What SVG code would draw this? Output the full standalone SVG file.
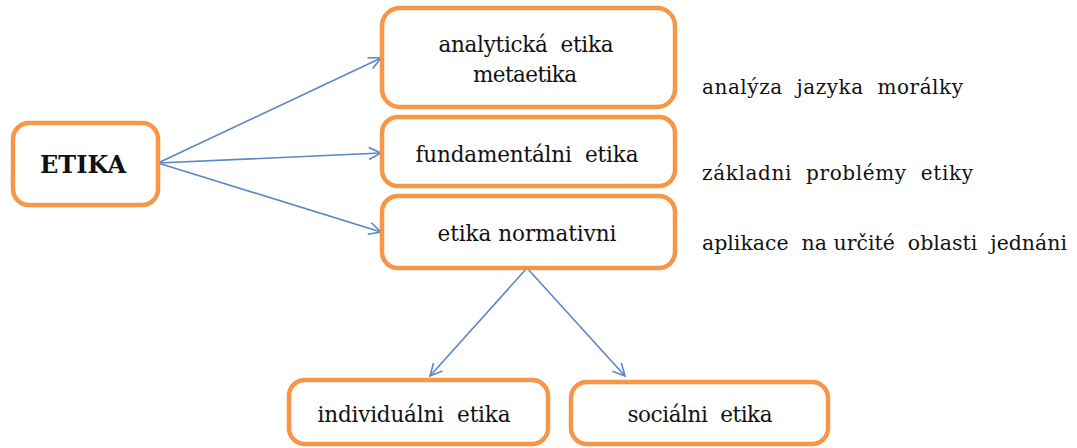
<svg xmlns="http://www.w3.org/2000/svg" width="1077" height="448" viewBox="0 0 1077 448">
<style>
.box{fill:#ffffff;stroke:#F79646;stroke-width:4.5}
text{font-family:'DejaVu Serif','Liberation Serif',serif;font-size:21.5px;fill:#111111}
.t{text-anchor:middle}
.n{font-size:20px}
.b{font-weight:bold;font-size:24px}
.c{fill:none;stroke:#5A87C5;stroke-width:1.6}
</style>
<defs>
<marker id="ah" viewBox="0 0 14 14" refX="13" refY="7" markerWidth="14" markerHeight="14" markerUnits="userSpaceOnUse" orient="auto">
<path d="M1,1 L13,7 L1,13" fill="none" stroke="#5A87C5" stroke-width="1.6"/>
</marker>
</defs>
<rect width="1077" height="448" fill="#ffffff"/>
<g id="connectors">
<line class="c" x1="158" y1="163" x2="381" y2="58" marker-end="url(#ah)"/>
<line class="c" x1="158" y1="163" x2="381" y2="153" marker-end="url(#ah)"/>
<line class="c" x1="158" y1="163" x2="381" y2="232" marker-end="url(#ah)"/>
<line class="c" x1="527" y1="268" x2="430" y2="376" marker-end="url(#ah)"/>
<line class="c" x1="527" y1="268" x2="625" y2="376" marker-end="url(#ah)"/>
</g>
<g id="etika">
<rect class="box" x="13" y="123" width="145" height="82" rx="16"/>
<text class="t b" x="83" y="173" textLength="86">ETIKA</text>
</g>
<g id="analyticka">
<rect class="box" x="382" y="8" width="293" height="99" rx="18"/>
<text class="t" x="526" y="52" xml:space="preserve" textLength="175">analytická  etika</text>
<text class="t" x="525" y="82" textLength="104">metaetika</text>
</g>
<g id="fundamentalni">
<rect class="box" x="382" y="117" width="293" height="69" rx="16"/>
<text class="t" x="527" y="162" xml:space="preserve" textLength="223">fundamentálni  etika</text>
</g>
<g id="normativni">
<rect class="box" x="382" y="196" width="293" height="72" rx="16"/>
<text class="t" x="527" y="241" textLength="179">etika normativni</text>
</g>
<g id="individualni">
<rect class="box" x="289" y="380" width="259" height="64" rx="16"/>
<text class="t" x="414" y="422" xml:space="preserve" textLength="193">individuálni  etika</text>
</g>
<g id="socialni">
<rect class="box" x="571" y="382" width="257" height="62" rx="16"/>
<text class="t" x="700" y="422" xml:space="preserve" textLength="145">sociálni  etika</text>
</g>
<g id="notes">
<text class="n" x="702" y="94" xml:space="preserve" textLength="261">analýza  jazyka  morálky</text>
<text class="n" x="702" y="180" xml:space="preserve" textLength="271">základni  problémy  etiky</text>
<text class="n" x="702" y="250" xml:space="preserve" textLength="365" lengthAdjust="spacingAndGlyphs">aplikace  na určité  oblasti  jednáni</text>
</g>
</svg>
